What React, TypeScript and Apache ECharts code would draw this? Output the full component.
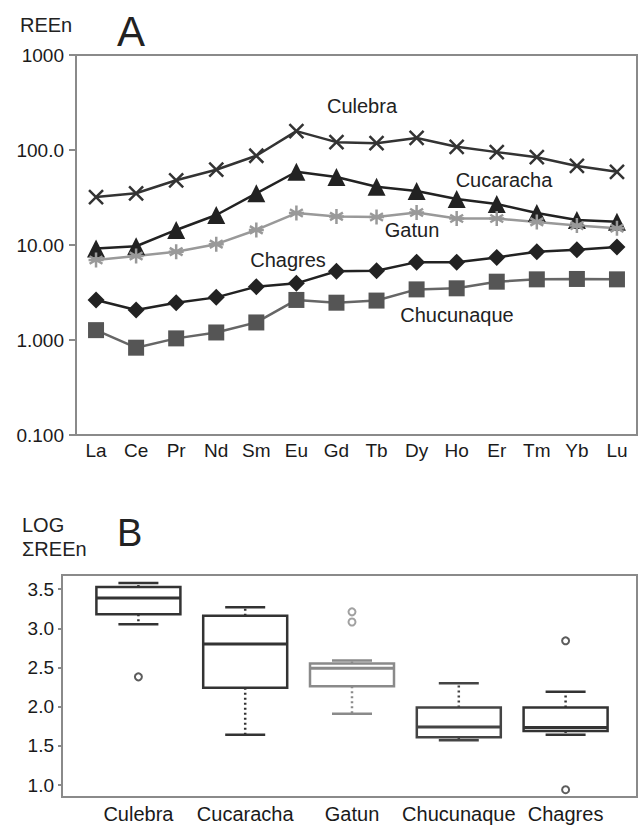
import React, { useEffect, useRef } from "react";
import * as echarts from "echarts";

const elements = ["La", "Ce", "Pr", "Nd", "Sm", "Eu", "Gd", "Tb", "Dy", "Ho", "Er", "Tm", "Yb", "Lu"];
const culebra = [32, 35, 48, 62, 87, 158, 121, 118, 134, 108, 95, 84, 68, 59];
const cucaracha = [9.2, 9.7, 14.4, 20.7, 35, 59, 52, 41, 37, 30.5, 27, 21.7, 18.3, 17.6];
const gatun = [6.95, 7.66, 8.5, 10.2, 14.4, 21.7, 20, 19.7, 22, 19, 19, 17.5, 16, 15];
const chagres = [2.64, 2.07, 2.47, 2.81, 3.64, 3.95, 5.3, 5.37, 6.6, 6.6, 7.4, 8.5, 8.9, 9.5];
const chucunaque = [1.27, 0.83, 1.04, 1.2, 1.53, 2.64, 2.47, 2.6, 3.41, 3.5, 4.11, 4.35, 4.39, 4.35];
const logTickLabels: Record<string, string> = { "0.1": "0.100", "1": "1.000", "10": "10.00", "100": "100.0", "1000": "1000" };

const formations = ["Culebra", "Cucaracha", "Gatun", "Chucunaque", "Chagres"];
// [low whisker, Q1, median, Q3, high whisker]
const boxStats = [
  [3.05, 3.18, 3.385, 3.526, 3.577],
  [1.64, 2.24, 2.8, 3.16, 3.27],
  [1.91, 2.26, 2.49, 2.55, 2.59],
  [1.57, 1.61, 1.74, 1.99, 2.3],
  [1.64, 1.69, 1.735, 1.99, 2.19],
];
const boxColors = ["#333", "#333", "#8a8a8a", "#444", "#333"];
const outliers: [number, number][] = [
  [0, 2.38],
  [2, 3.21],
  [2, 3.08],
  [4, 2.84],
  [4, 0.94],
];
const yTicksB = [1.0, 1.5, 2.0, 2.5, 3.0, 3.5];

const FONT = '"Liberation Sans", Arial, sans-serif';

export default function App() {
  const ref = useRef<HTMLDivElement>(null);
  useEffect(() => {
    const chart = echarts.init(ref.current!, null, { renderer: "svg" });
    const axisGray = "#8a8a8a";
    const txt = (text: string, x: number, y: number, size: number, align = "left", color = "#222") => ({
      type: "text",
      x,
      y,
      style: {
        text,
        fill: color,
        font: `${size}px ${FONT}`,
        textAlign: align,
        textVerticalAlign: "middle",
        align,
        verticalAlign: "middle",
      },
    });
    const lineSeries = (name: string, data: number[], color: string, symbol: string, size: number, fill: string) => ({
      name,
      type: "line",
      xAxisIndex: 0,
      yAxisIndex: 0,
      data,
      symbol,
      symbolSize: size,
      lineStyle: { color, width: 2.5 },
      itemStyle: { color: fill, borderColor: color, borderWidth: symbol.startsWith("path") ? 2.5 : 0 },
      z: 3,
    });
    chart.setOption({
      animation: false,
      textStyle: { fontFamily: FONT },
      grid: [
        { left: 76, right: 2, top: 55, height: 380, show: true, borderColor: axisGray, borderWidth: 2, backgroundColor: "transparent" },
        { left: 62, right: 2, top: 575, height: 222, show: true, borderColor: axisGray, borderWidth: 2, backgroundColor: "transparent" },
        { left: 85, width: 534, top: 575, height: 222 },
      ],
      xAxis: [
        {
          type: "category",
          gridIndex: 0,
          data: elements,
          boundaryGap: true,
          axisLine: { lineStyle: { color: axisGray, width: 2 } },
          axisTick: { alignWithLabel: true, length: 4, lineStyle: { color: axisGray, width: 2 } },
          axisLabel: { color: "#1a1a1a", fontSize: 19, margin: 6, fontFamily: FONT },
          splitLine: { show: false },
        },
        { type: "value", gridIndex: 1, show: false },
        {
          type: "category",
          gridIndex: 2,
          data: formations,
          boundaryGap: true,
          axisLine: { show: false },
          axisTick: { alignWithLabel: true, length: 4, lineStyle: { color: axisGray, width: 2 } },
          axisLabel: { color: "#1a1a1a", fontSize: 20, margin: 7, fontFamily: FONT, interval: 0 },
          splitLine: { show: false },
        },
      ],
      yAxis: [
        {
          type: "log",
          gridIndex: 0,
          logBase: 10,
          min: 0.1,
          max: 1000,
          axisLine: { show: true, lineStyle: { color: axisGray, width: 2 } },
          axisTick: { show: true, length: 7, lineStyle: { color: axisGray, width: 2 } },
          minorTick: { show: false },
          axisLabel: {
            color: "#1a1a1a",
            fontSize: 19,
            margin: 12,
            fontFamily: FONT,
            formatter: (v: number) => logTickLabels[String(Math.round(v * 1000) / 1000)] ?? String(v),
          },
          splitLine: { show: false },
        },
        {
          type: "value",
          gridIndex: 1,
          min: 0.847,
          max: 3.68,
          axisLine: { show: true, lineStyle: { color: axisGray, width: 2 } },
          axisTick: { show: true, length: 4, customValues: yTicksB, lineStyle: { color: axisGray, width: 2 } },
          axisLabel: { color: "#1a1a1a", fontSize: 19, margin: 8, fontFamily: FONT, customValues: yTicksB, formatter: (v: number) => v.toFixed(1) },
          splitLine: { show: false },
        },
        { type: "value", gridIndex: 2, min: 0.847, max: 3.68, show: false },
      ],
      series: [
        lineSeries("Culebra", culebra, "#333", "path://M0,0L10,10M10,0L0,10", 14, "#333"),
        lineSeries("Cucaracha", cucaracha, "#222", "triangle", 18, "#222"),
        lineSeries("Gatun", gatun, "#999", "path://M5,0L5,10M0.7,2.5L9.3,7.5M9.3,2.5L0.7,7.5M0,5L10,5", 15, "#999"),
        lineSeries("Chagres", chagres, "#222", "diamond", 17, "#222"),
        lineSeries("Chucunaque", chucunaque, "#666", "rect", 16, "#555"),
        {
          type: "custom",
          xAxisIndex: 2,
          yAxisIndex: 2,
          data: boxStats.map((s, i) => [i, ...s]),
          encode: { x: 0, y: [1, 2, 3, 4, 5] },
          renderItem: (params: any, api: any) => {
            const i = api.value(0);
            const color = boxColors[i];
            const lo = api.coord([i, api.value(1)]);
            const q1 = api.coord([i, api.value(2)]);
            const md = api.coord([i, api.value(3)]);
            const q3 = api.coord([i, api.value(4)]);
            const hi = api.coord([i, api.value(5)]);
            const cx = lo[0];
            const bw = 84;
            const cw = 40;
            const ls = { stroke: color, lineWidth: 2.5, fill: "none" };
            const dash = { stroke: color, lineWidth: 2.5, lineDash: [2, 3] };
            return {
              type: "group",
              children: [
                { type: "line", shape: { x1: cx, y1: q3[1], x2: cx, y2: hi[1] }, style: dash },
                { type: "line", shape: { x1: cx, y1: q1[1], x2: cx, y2: lo[1] }, style: dash },
                { type: "line", shape: { x1: cx - cw / 2, y1: hi[1], x2: cx + cw / 2, y2: hi[1] }, style: ls },
                { type: "line", shape: { x1: cx - cw / 2, y1: lo[1], x2: cx + cw / 2, y2: lo[1] }, style: ls },
                { type: "rect", shape: { x: cx - bw / 2, y: q3[1], width: bw, height: q1[1] - q3[1] }, style: { stroke: color, lineWidth: 2.5, fill: "#fff" } },
                { type: "line", shape: { x1: cx - bw / 2, y1: md[1], x2: cx + bw / 2, y2: md[1] }, style: { stroke: color, lineWidth: 3 } },
              ],
            };
          },
          z: 3,
        },
        {
          type: "scatter",
          xAxisIndex: 2,
          yAxisIndex: 2,
          data: outliers.map((o) => ({ value: o, itemStyle: { borderColor: boxColors[o[0]] } })),
          symbol: "circle",
          symbolSize: 7,
          itemStyle: { color: "#fff", borderWidth: 2 },
          z: 4,
        },
      ],
      graphic: [
        txt("REEn", 20, 25, 20),
        txt("A", 117, 31, 42),
        txt("Culebra", 362, 106, 20, "center"),
        txt("Cucaracha", 504, 180, 20, "center"),
        txt("Gatun", 412, 230, 20, "center"),
        txt("Chagres", 288, 260, 20, "center"),
        txt("Chucunaque", 457, 315, 20, "center"),
        txt("LOG", 22, 525, 20),
        txt("ΣREEn", 22, 549, 20),
        txt("B", 117, 533, 38),
      ],
    });
    return () => chart.dispose();
  }, []);
  return <div ref={ref} style={{ position: "fixed", left: 0, top: 0, width: 639, height: 825, background: "#fff" }} />;
}
